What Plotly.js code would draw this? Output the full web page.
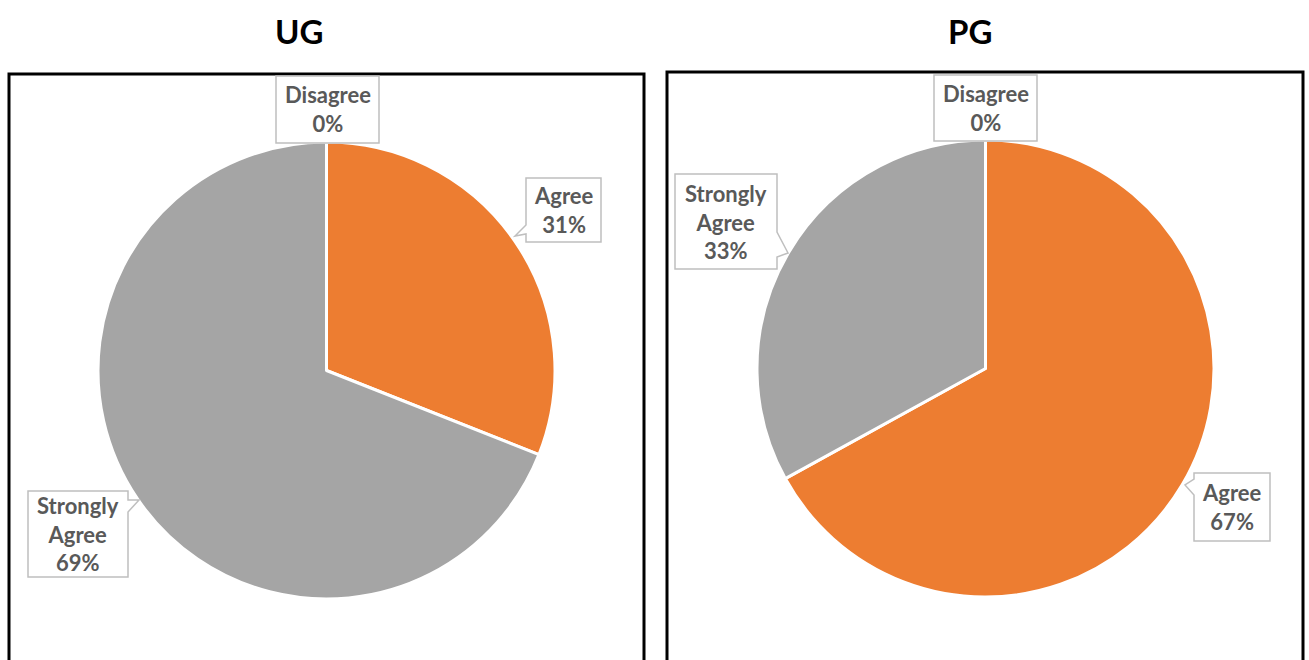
<!DOCTYPE html>
<html>
<head>
<meta charset="utf-8">
<script src="https://cdn.plot.ly/plotly-3.0.1.min.js"></script>
<style>html,body{margin:0;padding:0;background:#fff;}#chart{width:1309px;height:660px;}</style>
</head>
<body>
<div id="chart"></div>
<script>
// ---- data ----
var categories = ["Disagree", "Agree", "Strongly Agree"];
var ugValues = [0, 31, 69];
var pgValues = [0, 67, 33];
var chartTitles = ["UG", "PG"];
var sliceColors = ["#5B9BD5", "#ED7D31", "#A5A5A5"];

// ---- layout helpers (pixel -> paper) ----
var W = 1309, H = 660;
function px(x) { return x / W; }
function py(y) { return 1 - y / H; }

var pieDomains = [
  {x: [px(98), px(555)], y: [py(599), py(142)]},
  {x: [px(757), px(1214)], y: [py(597), py(140)]}
];
var seriesList = [ugValues, pgValues];

var traces = seriesList.map(function (vals, i) {
  return {
    type: "pie",
    labels: categories,
    values: vals,
    sort: false,
    direction: "clockwise",
    rotation: 0,
    textinfo: "none",
    hoverinfo: "label+percent",
    marker: {colors: sliceColors, line: {color: "#ffffff", width: 3}},
    domain: pieDomains[i],
    showlegend: false
  };
});

// callout outlines (pixel polygons) : [chart index, category index, polygon, text box]
var callouts = [
  [0, 0, [[276, 76], [379, 76], [379, 143], [276, 143]], [276, 76, 379, 143]],
  [0, 1, [[526, 178], [601, 178], [601, 242], [526, 242], [526, 234], [515, 236], [526, 225]], [526, 178, 601, 242]],
  [0, 2, [[28, 491], [128, 491], [128, 500], [139, 500], [128, 512], [128, 577], [28, 577]], [28, 491, 128, 577]],
  [1, 0, [[934, 75], [1037, 75], [1037, 141], [934, 141]], [934, 75, 1037, 141]],
  [1, 2, [[675, 174], [777, 174], [777, 232], [788, 253], [777, 257], [777, 269], [675, 269]], [675, 174, 777, 269]],
  [1, 1, [[1194, 473], [1270, 473], [1270, 541], [1194, 541], [1194, 495], [1185, 485], [1194, 479]], [1194, 473, 1270, 541]]
];

function pct(vals, j) {
  var s = vals.reduce(function (a, b) { return a + b; }, 0);
  return Math.round(vals[j] / s * 100) + "%";
}

var shapes = [
  {type: "rect", xref: "paper", yref: "paper", x0: px(9), x1: px(644), y0: py(74), y1: py(700),
   line: {color: "#000", width: 3}, fillcolor: "rgba(0,0,0,0)", layer: "below"},
  {type: "rect", xref: "paper", yref: "paper", x0: px(667), x1: px(1303), y0: py(72), y1: py(700),
   line: {color: "#000", width: 3}, fillcolor: "rgba(0,0,0,0)", layer: "below"}
];
var titleFont = {family: "Lato, 'Open Sans', sans-serif", size: 33, color: "#000"};
var annotations = [
  {text: "<b>" + chartTitles[0] + "</b>", x: px(299), y: py(31), xref: "paper", yref: "paper", showarrow: false,
   xanchor: "center", yanchor: "middle", font: titleFont},
  {text: "<b>" + chartTitles[1] + "</b>", x: px(970), y: py(31), xref: "paper", yref: "paper", showarrow: false,
   xanchor: "center", yanchor: "middle", font: titleFont}
];

callouts.forEach(function (c) {
  var ci = c[0], j = c[1], poly = c[2], bx = c[3];
  var path = "M" + poly.map(function (p) { return px(p[0]) + "," + py(p[1]); }).join(" L") + " Z";
  shapes.push({type: "path", xref: "paper", yref: "paper", path: path,
    fillcolor: "#ffffff", line: {color: "#BFBFBF", width: 1.5}});
  var txt = categories[j].split(" ").join("<br>") + "<br>" + pct(seriesList[ci], j);
  annotations.push({text: "<b>" + txt + "</b>", x: px((bx[0] + bx[2]) / 2), y: py((bx[1] + bx[3]) / 2),
    xref: "paper", yref: "paper", showarrow: false, align: "center",
    xanchor: "center", yanchor: "middle",
    font: {family: "Lato, 'Open Sans', sans-serif", size: 22, color: "#595959"}});
});

var layout = {
  width: W, height: H,
  margin: {l: 0, r: 0, t: 0, b: 0},
  paper_bgcolor: "#ffffff",
  shapes: shapes,
  annotations: annotations,
  showlegend: false
};

Plotly.newPlot("chart", traces, layout, {displayModeBar: false, staticPlot: true});
</script>
</body>
</html>
